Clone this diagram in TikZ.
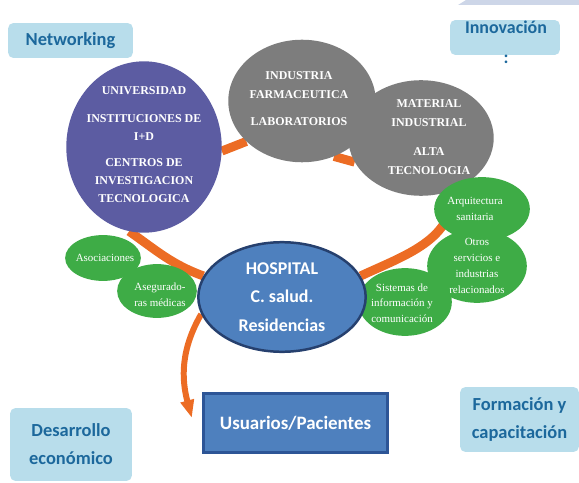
\documentclass[tikz,border=0pt]{standalone}
\usepackage{fontspec}
\setmainfont{Liberation Serif}
\newfontfamily\carlito{Carlito}
\usetikzlibrary{arrows.meta}
\usetikzlibrary{backgrounds}
\usetikzlibrary{shapes.geometric}
\definecolor{ringorange}{RGB}{236,108,36}
\definecolor{unipurple}{RGB}{92,92,162}
\definecolor{indgray}{RGB}{125,125,125}
\definecolor{leafgreen}{RGB}{62,172,70}
\definecolor{hospblue}{RGB}{78,128,190}
\definecolor{hospedge}{RGB}{38,64,110}
\definecolor{usersedge}{RGB}{45,85,150}
\definecolor{tagfill}{RGB}{184,221,235}
\definecolor{tagtext}{RGB}{28,104,156}
\definecolor{stripgray}{RGB}{205,214,232}
\tikzset{blob/.style = {ellipse, inner sep=0}}
\tikzset{blobtext/.style = {text=white, align=center, font=\bfseries\fontsize{12}{18.5}\selectfont}}
\tikzset{leaf/.style = {ellipse, fill=leafgreen, inner sep=0}}
\tikzset{leaftext/.style = {text=white, align=center, font=\fontsize{11}{15.8}\selectfont}}
\tikzset{tag/.style = {fill=tagfill, rounded corners=5, text=tagtext, align=center, font=\carlito\bfseries\fontsize{18.5}{28}\selectfont}}
\tikzset{ring/.style = {ringorange, line width=9}}

\begin{document}
\begin{tikzpicture}[x=1bp,y=1bp]
        \useasboundingbox (0,0) rectangle (579,-483);
        \fill [stripgray] (458,-5) -- (466,0) -- (579,0) -- (579,-5) -- cycle;
        \node [tag, minimum width=125, minimum height=35] (net) at (70.5,-40.5) {Networking};
        \node [tag, minimum width=110, minimum height=35] (innovbox) at (505,-37.5) {};
        \node [text=tagtext, align=center, font=\carlito\bfseries\fontsize{18}{30}\selectfont] (innov) at (506,-42) {Innovación\\:};
        \node [tag, minimum width=122, minimum height=73] (desa) at (71,-444.5) {Desarrollo\\económico};
        \node [tag, minimum width=119, minimum height=65] (form) at (519.5,-419.5) {Formación y\\capacitación};
        \node [blob, fill=unipurple, minimum width=156, minimum height=172,
               label={[blobtext, yshift=2]center:{UNIVERSIDAD\\[9pt]INSTITUCIONES DE\\I+D\\[7pt]CENTROS DE\\INVESTIGACION\\TECNOLOGICA}}] (univ) at (144,-147) {};
        \node [blob, fill=indgray, minimum width=148, minimum height=123,
               label={[blobtext, xshift=-3, yshift=2]center:{INDUSTRIA\\FARMACEUTICA\\[9pt]LABORATORIOS}}] (ind) at (302,-101) {};
        \node [blob, fill=indgray, minimum width=146, minimum height=116,
               label={[blobtext, xshift=8, yshift=1]center:{MATERIAL\\INDUSTRIAL\\[11pt]ALTA\\TECNOLOGIA}}] (mat) at (421,-138) {};
        \node [leaf, minimum width=76, minimum height=46, label={[leaftext, xshift=2]center:Asociaciones}] (asoc) at (103,-258) {};
        \node [leaf, minimum width=80, minimum height=54, label={[leaftext, xshift=3, yshift=-4]center:{Asegurado-\\ras médicas}}] (aseg) at (157,-291) {};
        \node [leaf, minimum width=96, minimum height=64, label={[leaftext, xshift=-7]center:{Arquitectura\\sanitaria}}] (arq) at (482,-209) {};
        \node [leaf, minimum width=100, minimum height=74, label={[leaftext]center:{Otros\\servicios e\\industrias\\relacionados}}] (otros) at (477,-266) {};
        \node [leaf, minimum width=94, minimum height=68, label={[leaftext, xshift=-3, yshift=-1]center:{Sistemas de\\información y\\comunicación}}] (sist) at (405,-302) {};
        \node [blob, fill=hospblue, draw=hospedge, line width=2.5, minimum width=168, minimum height=110,
               label={[text=white, align=center, font=\carlito\bfseries\fontsize{18}{28.5}\selectfont]center:{HOSPITAL\\C. salud.\\Residencias}}] (hosp) at (282,-297) {};
        \node [fill=hospblue, draw=usersedge, line width=3, minimum width=185, minimum height=60,
               text=white, font=\carlito\bfseries\fontsize{19}{22}\selectfont] (users) at (295.5,-423) {Usuarios/Pacientes};
        \coordinate (tip) at ([shift={(-10,5)}]users.west);
        \begin{scope}[on background layer]
        \draw [ring] (univ.-3) -- (ind.216);
        \draw [ring] (ind.-60) -- (mat.200);
        \draw [ring] (mat.-60) to[out=-85,in=25] (hosp.15);
        \draw [ring] (hosp.165) to[out=160,in=-35] (univ.-100);
        \draw [ring, line width=6, -{Triangle[width=13pt,length=18pt]}] (hosp.192) to[out=240,in=105] (tip);
        \end{scope}
    \end{tikzpicture}
\end{document}
